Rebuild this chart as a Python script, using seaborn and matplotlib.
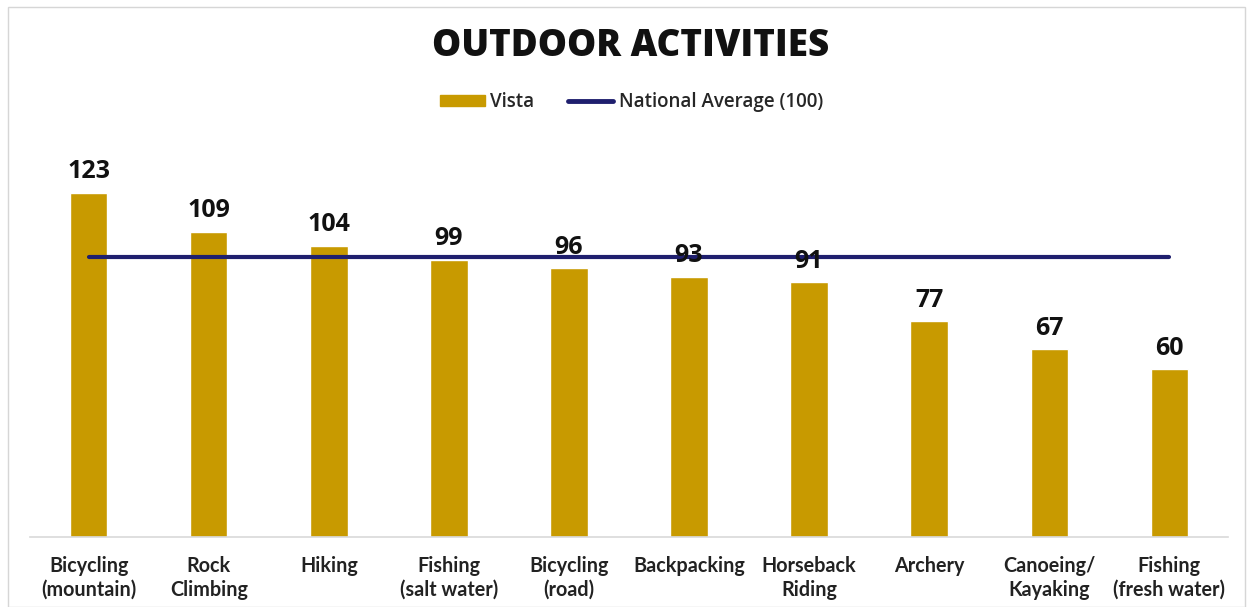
import matplotlib
matplotlib.use("Agg")
import matplotlib.pyplot as plt
import seaborn as sns
import pandas as pd
from matplotlib.patches import Rectangle
from matplotlib.lines import Line2D

categories = ["Bicycling\n(mountain)", "Rock\nClimbing", "Hiking", "Fishing\n(salt water)",
              "Bicycling\n(road)", "Backpacking", "Horseback\nRiding", "Archery",
              "Canoeing/\nKayaking", "Fishing\n(fresh water)"]
vista = [123, 109, 104, 99, 96, 93, 91, 77, 67, 60]
national = [100] * len(categories)

GOLD = "#C89A00"
NAVY = "#1F1F6E"

sns.set_theme(style="white")
plt.rcParams['font.family'] = ['Lato', 'DejaVu Sans']

df = pd.DataFrame({"cat": categories, "vista": vista, "national": national})

fig = plt.figure(figsize=(12.48, 6.07), dpi=100)
ax = fig.add_axes([30/1248, (607-537)/607, (1228-30)/1248, (537-145)/607])

sns.barplot(data=df, x="cat", y="vista", color=GOLD, width=0.31, ax=ax, saturation=1)
ax.plot(range(len(categories)), national, color=NAVY, linewidth=3, zorder=3)

for i, v in enumerate(vista):
    ax.text(i, v + 3, str(v), ha="center", va="bottom", fontsize=18, fontweight="bold",
            family=["Open Sans", "DejaVu Sans"], color="#111111")

ax.set_ylim(0, 140)
ax.set_xlim(-0.49, 9.49)
ax.set_xlabel("")
ax.set_ylabel("")
ax.set_yticks([])
for s in ["top", "right", "left"]:
    ax.spines[s].set_visible(False)
ax.spines["bottom"].set_color("#D9D9D9")
ax.spines["bottom"].set_linewidth(1.2)
ax.tick_params(axis="x", length=0, pad=14)
for lbl in ax.get_xticklabels():
    lbl.set_fontsize(14.2)
    lbl.set_fontweight("bold")
    lbl.set_color("#222222")
    lbl.set_linespacing(1.2)

fig.text(0.505, 0.924, "OUTDOOR ACTIVITIES", ha="center", va="center", fontsize=26.5,
         fontweight="heavy", family=["Open Sans", "DejaVu Sans"], color="#111111")

handles = [Rectangle((0, 0), 1, 1, color=GOLD), Line2D([0], [0], color=NAVY, linewidth=3.5)]
fig.legend(handles, ["Vista", "National Average (100)"], loc="center", bbox_to_anchor=(0.506, 0.832),
           ncol=2, frameon=False, prop={"family": ["Open Sans", "DejaVu Sans"], "size": 13.5, "weight": "semibold"},
           handlelength=2.4, handleheight=0.5, columnspacing=1.8, handletextpad=0.3)

fig.patches.append(Rectangle((8/1248, 0), (1245-8)/1248, (600)/607, transform=fig.transFigure,
                             fill=False, edgecolor="#D6D6D6", linewidth=1))

fig.savefig("out.png", dpi=100)
